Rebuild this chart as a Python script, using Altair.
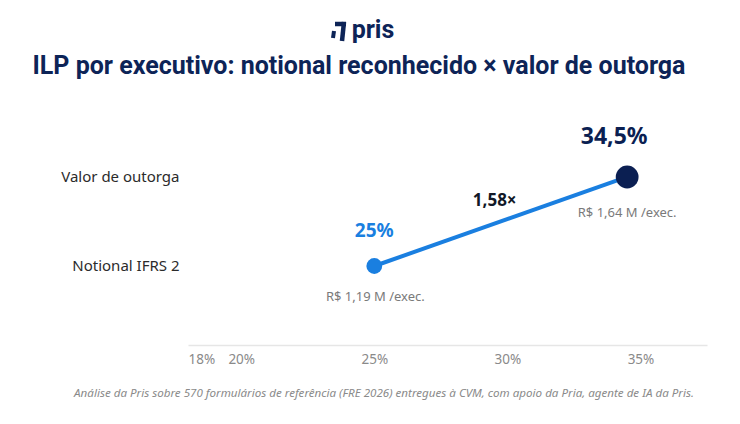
import altair as alt
import pandas as pd

# ---- data ----
categories = ["Notional IFRS 2", "Valor de outorga"]
cat_pos = [1, 2]
pct_values = [25.0, 34.5]
pct_labels = ["25%", "34,5%"]
money_labels = ["R$ 1,19 M /exec.", "R$ 1,64 M /exec."]
point_colors = ["#1a7fe0", "#0b1f52"]
point_sizes = [250, 520]
ratio_label = "1,58×"
x_ticks = [18, 20, 25, 30, 35]

title_text = "ILP por executivo: notional reconhecido × valor de outorga"
logo_text = "pris"
footnote = "Análise da Pris sobre 570 formulários de referência (FRE 2026) entregues à CVM, com apoio da Pria, agente de IA da Pris."

df = pd.DataFrame({
    "cat": categories,
    "ypos": cat_pos,
    "pct": pct_values,
    "pct_label": pct_labels,
    "money": money_labels,
    "color": point_colors,
    "size": point_sizes,
})

W, H = 519, 250
NAVY = "#0d2457"
xscale = alt.Scale(domain=[18, 37.5], nice=False, zero=False)
yscale = alt.Scale(domain=[0.1124, 2.921], nice=False, zero=False)

X = alt.X("pct:Q", scale=xscale, axis=alt.Axis(
    values=x_ticks, labelExpr="datum.value + '%'", title=None, grid=False,
    ticks=False, domainColor="#e6e6e6", domainWidth=1.5, labelColor="#8a8a8a",
    labelFontSize=13.5, labelPadding=7, labelFont="Noto Sans"))
Y = alt.Y("ypos:Q", scale=yscale, axis=alt.Axis(
    values=cat_pos, labelExpr="datum.value == 2 ? 'Valor de outorga' : 'Notional IFRS 2'",
    title=None, grid=False, ticks=False, domain=False, labelColor="#2b2b2b",
    labelFontSize=15, labelPadding=9, labelFont="Noto Sans"))

base = alt.Chart(df)

line = base.mark_line(color="#1a7fe0", strokeWidth=4).encode(x=X, y=Y)
points = base.mark_circle(opacity=1).encode(
    x=alt.X("pct:Q", scale=xscale), y=alt.Y("ypos:Q", scale=yscale),
    color=alt.Color("color:N", scale=None),
    size=alt.Size("size:Q", scale=None))

lab25 = alt.Chart(df.iloc[[0]]).mark_text(
    fontSize=19, fontWeight="bold", color="#1a7fe0", dy=-35, font="Noto Sans"
).encode(x=alt.X("pct:Q", scale=xscale), y=alt.Y("ypos:Q", scale=yscale), text="pct_label:N")
lab345 = alt.Chart(df.iloc[[1]]).mark_text(
    fontSize=23, fontWeight="bold", color="#0b1f52", dy=-40, dx=-13, font="Noto Sans"
).encode(x=alt.X("pct:Q", scale=xscale), y=alt.Y("ypos:Q", scale=yscale), text="pct_label:N")
money0 = alt.Chart(df.iloc[[0]]).mark_text(
    fontSize=13, color="#7a7a7a", dy=31, dx=1, font="Noto Sans"
).encode(x=alt.X("pct:Q", scale=xscale), y=alt.Y("ypos:Q", scale=yscale), text="money:N")
money1 = alt.Chart(df.iloc[[1]]).mark_text(
    fontSize=13, color="#7a7a7a", dy=36, font="Noto Sans"
).encode(x=alt.X("pct:Q", scale=xscale), y=alt.Y("ypos:Q", scale=yscale), text="money:N")

ratio = base.mark_text(
    fontSize=17, fontWeight="bold", color="#111827", dy=-20, dx=-6, font="Noto Sans"
).transform_aggregate(
    mx="mean(pct)", my="mean(ypos)"
).transform_calculate(lbl=f"'{ratio_label}'").encode(
    x=alt.X("mx:Q", scale=xscale), y=alt.Y("my:Q", scale=yscale), text="lbl:N")

title = alt.Chart(pd.DataFrame({"t": [title_text]})).mark_text(
    fontSize=25, fontWeight="bold", color=NAVY, font="Roboto", baseline="alphabetic"
).encode(x=alt.value(171), y=alt.value(-21), text="t:N")
logo = alt.Chart(pd.DataFrame({"t": [logo_text]})).mark_text(
    fontSize=25, fontWeight="bold", color=NAVY, font="Roboto", baseline="alphabetic"
).encode(x=alt.value(185), y=alt.value(-57), text="t:N")

# logo icon (decorative strokes)
icon_bar = alt.Chart(pd.DataFrame({"k": [0]})).mark_rule(color=NAVY, strokeWidth=4.5).encode(
    x=alt.value(147), x2=alt.value(158), y=alt.value(-71))
icon_stem = alt.Chart(pd.DataFrame({"k": [0]})).mark_rule(color=NAVY, strokeWidth=4.5).encode(
    x=alt.value(156), x2=alt.value(154), y=alt.value(-73), y2=alt.value(-54))
icon_dot = alt.Chart(pd.DataFrame({"k": [0]})).mark_rule(color=NAVY, strokeWidth=4).encode(
    x=alt.value(146), x2=alt.value(145), y=alt.value(-64), y2=alt.value(-57))

foot = alt.Chart(pd.DataFrame({"t": [footnote]})).mark_text(
    fontSize=11.6, fontStyle="italic", color="#8a8a8a", font="Noto Sans", baseline="alphabetic"
).encode(x=alt.value(196), y=alt.value(302), text="t:N")

chart = alt.layer(line, points, lab25, lab345, money0, money1, ratio, title,
                  logo, icon_bar, icon_stem, icon_dot, foot).properties(
    width=W, height=H,
    autosize=alt.AutoSizeParams(type="none"),
    padding={"left": 188, "top": 95, "right": 33, "bottom": 79},
).configure(background="white").configure_view(strokeWidth=0, stroke="transparent")

chart.save("out.html", embed_options={"renderer": "svg", "actions": False})
